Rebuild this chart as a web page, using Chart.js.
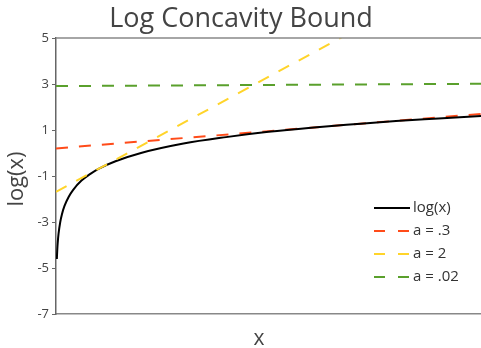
<!DOCTYPE html>
<html>
<head>
<meta charset="utf-8">
<script src="https://cdn.jsdelivr.net/npm/chart.js@4.4.1/dist/chart.umd.min.js"></script>
<style>
  html, body { margin: 0; padding: 0; background: #fff; }
  #wrap { width: 481px; height: 348px; position: relative; }
</style>
</head>
<body>
<div id="wrap"><canvas id="myChart"></canvas></div>
<script>
// values
const logX = [0.01, 0.015, 0.02, 0.03, 0.05, 0.07, 0.1, 0.15, 0.2, 0.3, 0.4, 0.5, 0.7, 1, 1.5, 2, 2.5, 3, 3.5, 4, 4.5, 5];
const logY = [-4.61, -4.2, -3.91, -3.51, -3.0, -2.66, -2.3, -1.9, -1.61, -1.2, -0.92, -0.69, -0.36, 0, 0.41, 0.69, 0.92, 1.1, 1.25, 1.39, 1.5, 1.61];
const lineX = [0, 5];
const boundA03 = [0.2, 1.7];
const boundA2 = [-1.69, 8.31];
const boundA002 = [2.91, 3.01];
const yTicks = [-7, -5, -3, -1, 1, 3, 5];

const toPoints = (xs, ys) => xs.map((x, i) => ({ x: x, y: ys[i] }));

const FONT = '"Open Sans", "DejaVu Sans", sans-serif';
const DASH = [12, 11];

const legendItems = [
  { label: 'log(x)', color: '#000000', dash: [] },
  { label: 'a = .3', color: '#ff4b19', dash: [11, 13] },
  { label: 'a = 2', color: '#ffd42a', dash: [11, 13] },
  { label: 'a = .02', color: '#5aa02c', dash: [11, 13] },
];

const decorations = {
  id: 'decorations',
  afterDraw(chart) {
    const ctx = chart.ctx;
    const area = chart.chartArea;
    ctx.save();
    // top frame line
    ctx.strokeStyle = '#888';
    ctx.lineWidth = 1.5;
    ctx.beginPath();
    ctx.moveTo(area.left, area.top);
    ctx.lineTo(chart.width, area.top);
    ctx.stroke();

    // titles
    ctx.fillStyle = '#444';
    ctx.textAlign = 'center';
    ctx.textBaseline = 'middle';
    ctx.font = '27px ' + FONT;
    ctx.fillText('Log Concavity Bound', 241, 19);
    ctx.font = '21px ' + FONT;
    ctx.fillText('x', 259, 339);
    ctx.save();
    ctx.translate(17, 179);
    ctx.rotate(-Math.PI / 2);
    ctx.font = '22px ' + FONT;
    ctx.fillText('log(x)', 0, 0);
    ctx.restore();

    // legend
    ctx.textAlign = 'left';
    ctx.font = '15px ' + FONT;
    legendItems.forEach((item, i) => {
      const y = 208 + i * 23;
      ctx.strokeStyle = item.color;
      ctx.lineWidth = 2;
      ctx.setLineDash(item.dash);
      ctx.beginPath();
      ctx.moveTo(374, y);
      ctx.lineTo(410, y);
      ctx.stroke();
      ctx.setLineDash([]);
      ctx.fillStyle = '#333';
      ctx.fillText(item.label, 413, y);
    });
    ctx.restore();
  }
};

const ctx = document.getElementById('myChart').getContext('2d');
new Chart(ctx, {
  type: 'line',
  data: {
    datasets: [
      {
        label: 'a = .02',
        data: toPoints(lineX, boundA002),
        borderColor: '#5aa02c',
        borderWidth: 2,
        borderDash: DASH,
        pointRadius: 0,
      },
      {
        label: 'a = 2',
        data: toPoints(lineX, boundA2),
        borderColor: '#ffd42a',
        borderWidth: 2,
        borderDash: DASH,
        pointRadius: 0,
      },
      {
        label: 'log(x)',
        data: toPoints(logX, logY),
        borderColor: '#000000',
        borderWidth: 2,
        cubicInterpolationMode: 'monotone',
        pointRadius: 0,
      },
      {
        label: 'a = .3',
        data: toPoints(lineX, boundA03),
        borderColor: '#ff4b19',
        borderWidth: 2,
        borderDash: DASH,
        pointRadius: 0,
      },
    ]
  },
  options: {
    responsive: true,
    maintainAspectRatio: false,
    animation: false,
    layout: { padding: { top: 38, right: 0, left: 0, bottom: 0 } },
    plugins: {
      legend: { display: false },
      tooltip: { enabled: false },
    },
    scales: {
      x: {
        type: 'linear',
        min: 0,
        max: 5,
        ticks: { display: false },
        grid: { display: false },
        border: { color: '#888', width: 1.5 },
        afterFit(scale) { scale.height = 34; },
      },
      y: {
        min: -7,
        max: 5,
        afterBuildTicks(scale) { scale.ticks = yTicks.map(v => ({ value: v })); },
        ticks: {
          color: '#444',
          font: { family: FONT, size: 13 },
          padding: 3,
        },
        grid: { drawOnChartArea: false, drawTicks: true, tickLength: 4, color: '#666' },
        border: { color: '#666', width: 1.5 },
        afterFit(scale) { scale.width = 56; },
      },
    },
  },
  plugins: [decorations],
});
</script>
</body>
</html>
